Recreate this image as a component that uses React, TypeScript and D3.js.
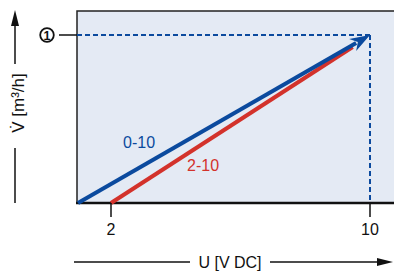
import React from 'react';
import * as d3 from 'd3';

// signal ranges: [label, U start, U end]
const seriesNames = ['0-10', '2-10'];
const uStart = [0, 2];
const uEnd = [10, 10];
const flowStart = [0, 0];
const flowEnd = [1, 1];
const xTicks = [2, 10];
const markLabel = '1';

const W = 394;
const H = 274;
const blue = '#0b4a9e';
const red = '#d3322b';
const font = 'Liberation Sans, Arial, Helvetica, sans-serif';

export default function App() {
  const left = 77;
  const top = 11;
  const bottom = 203;

  // schematic axis: origin is not to scale with the ticks
  const x = d3.scaleLinear().domain([0, 2, 10]).range([78, 111, 370]);
  const y = d3.scaleLinear().domain([0, 1]).range([bottom, 35]);

  const colors = [blue, red];
  const line = d3.line<[number, number]>().x(d => x(d[0])).y(d => y(d[1]));

  // arrow head for the blue line
  const x0 = x(uStart[0]), y0 = y(flowStart[0]);
  const x1 = x(uEnd[0]), y1 = y(flowEnd[0]);
  const ang = Math.atan2(y1 - y0, x1 - x0);
  const headLen = 20, headW = 7;
  const bx = x1 - headLen * Math.cos(ang), by = y1 - headLen * Math.sin(ang);
  const nx = -Math.sin(ang), ny = Math.cos(ang);
  const head = `${x1},${y1} ${bx + nx * headW},${by + ny * headW} ${bx + 6 * Math.cos(ang)},${by + 6 * Math.sin(ang)} ${bx - nx * headW},${by - ny * headW}`;

  // red line stops under the arrow head
  const redEnd: [number, number] = [x.invert(bx), y.invert(by + 2)];

  return (
    <svg width={W} height={H} style={{ position: 'absolute', left: 0, top: 0 }} fontFamily={font}>
      <rect x={0} y={0} width={W} height={H} fill="#fff" />
      {/* plot area */}
      <rect x={left} y={top} width={W - left + 10} height={bottom - top} fill="#e4eaf4" stroke="#222" strokeWidth={1.5} />
      <line x1={left - 1} x2={W} y1={bottom} y2={bottom} stroke="#111" strokeWidth={2.5} />

      {/* reference dashed lines */}
      <line x1={left} x2={x(10)} y1={y(1)} y2={y(1)} stroke={blue} strokeWidth={2} strokeDasharray="5,3" />
      <line x1={x(10)} x2={x(10)} y1={y(1)} y2={bottom} stroke={blue} strokeWidth={2} strokeDasharray="5,3" />

      {/* series */}
      {[1, 0].map(i => (
        <path
          key={i}
          d={line(i === 0
            ? [[uStart[i], flowStart[i]], [x.invert(bx + 4 * Math.cos(ang)), y.invert(by + 4 * Math.sin(ang))]]
            : [[uStart[i], flowStart[i]], redEnd]) || ''}
          stroke={colors[i]}
          strokeWidth={4}
          fill="none"
        />
      ))}
      <polygon points={head} fill={blue} />

      <text x={123} y={148} fill={blue} fontSize={16}>{seriesNames[0]}</text>
      <text x={187} y={171} fill={red} fontSize={16}>{seriesNames[1]}</text>

      {/* x ticks */}
      {xTicks.map(t => (
        <g key={t}>
          <line x1={x(t)} x2={x(t)} y1={bottom} y2={217} stroke="#111" strokeWidth={1.5} />
          <text x={x(t)} y={235} textAnchor="middle" fontSize={16} fill="#111">{t}</text>
        </g>
      ))}

      {/* y mark */}
      <line x1={59} x2={left} y1={y(1)} y2={y(1)} stroke="#111" strokeWidth={1.5} />
      <circle cx={47} cy={y(1)} r={6.8} fill="none" stroke="#111" strokeWidth={1.8} />
      <text x={47} y={y(1) + 4.5} textAnchor="middle" fontSize={12.5} fontWeight="bold" fill="#111">{markLabel}</text>

      {/* y axis title */}
      <line x1={15} x2={15} y1={64} y2={24} stroke="#111" strokeWidth={1.5} />
      <polygon points="15,10 11,26 19,26" fill="#111" />
      <text transform="translate(24,103) rotate(-90)" textAnchor="middle" fontSize={17} fill="#111">V̇ [m³/h]</text>
      <line x1={15} x2={15} y1={148} y2={bottom} stroke="#111" strokeWidth={1.5} />

      {/* x axis title */}
      <line x1={74} x2={190} y1={262} y2={262} stroke="#111" strokeWidth={1.5} />
      <text x={230} y={268} textAnchor="middle" fontSize={16} fill="#111">U [V DC]</text>
      <line x1={270} x2={380} y1={262} y2={262} stroke="#111" strokeWidth={1.5} />
      <polygon points="393,262 377,258 377,266" fill="#111" />
    </svg>
  );
}
